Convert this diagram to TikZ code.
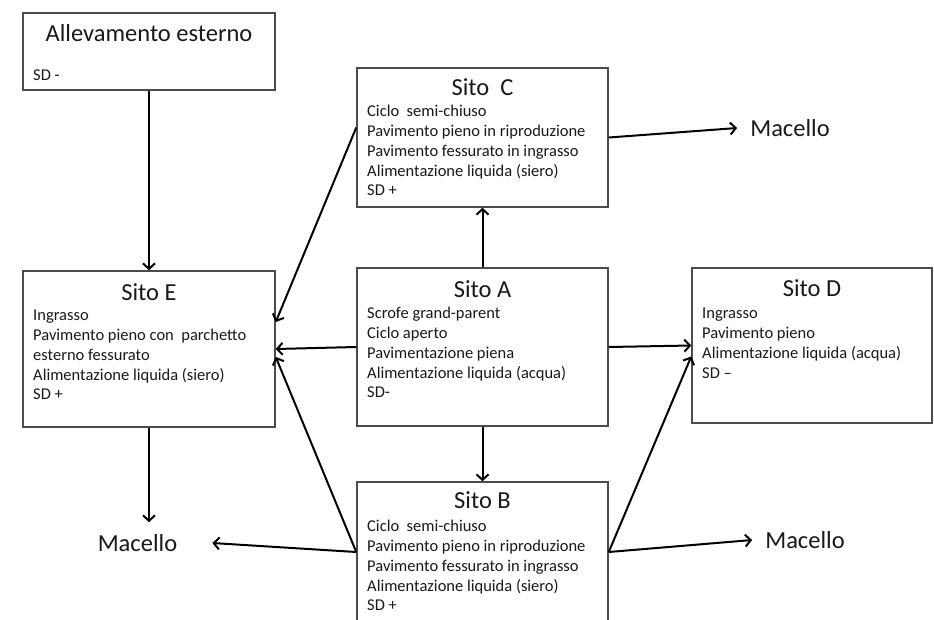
\documentclass[tikz,border=0pt]{standalone}
\usepackage{fontspec}
\setmainfont{Carlito}
\usetikzlibrary{arrows.meta}

\begin{document}
\begin{tikzpicture}[x=1pt,y=-1pt]
  \tikzstyle{box} = [draw=black!70, line width=1.5pt, inner sep=0pt]
  \tikzstyle{titolo} = [font=\fontsize{24.5}{28}\selectfont, text=black!90]
  \tikzstyle{testo} = [font=\fontsize{16.5}{19.8}\selectfont, text=black!90, align=left, anchor=north west, inner sep=0pt]
  \tikzstyle{macello} = [font=\fontsize{24.5}{28}\selectfont, text=black!90, inner xsep=13pt, inner ysep=4pt]
  \tikzstyle{freccia} = [line width=2pt, -{Straight Barb[length=5.5pt,width=12pt]}]
  \useasboundingbox[fill=white] (0,0) rectangle (934,619);
  \clip (0,0) rectangle (934,619);

  % boxes
  \node[box, minimum width=252pt, minimum height=77pt] (all) at (149,51.5) {};
  \node[box, minimum width=251pt, minimum height=139pt] (C) at (482.5,137.5) {};
  \node[box, minimum width=252pt, minimum height=156pt] (E) at (149,349) {};
  \node[box, minimum width=251pt, minimum height=158pt] (A) at (482.5,347) {};
  \node[box, minimum width=240pt, minimum height=155pt] (D) at (812,345.5) {};
  \node[box, minimum width=251pt, minimum height=148pt] (B) at (482.5,556) {};

  % titles and texts
  \node[titolo] (allT) at (149,33) {Allevamento esterno};
  \node[testo] (allX) at (33,70) {SD -};
  \node[titolo] (CT) at (482.5,87) {Sito~~C};
  \node[testo] (CX) at (367,105) {Ciclo~~semi-chiuso\\Pavimento pieno in riproduzione\\Pavimento fessurato in ingrasso\\Alimentazione liquida (siero)\\SD +};
  \node[titolo] (ET) at (149,292) {Sito E};
  \node[testo] (EX) at (33,310) {Ingrasso\\Pavimento pieno con~~parchetto\\esterno fessurato\\Alimentazione liquida (siero)\\SD +};
  \node[titolo] (AT) at (482.5,289) {Sito A};
  \node[testo] (AX) at (367,307) {Scrofe grand-parent\\Ciclo aperto\\Pavimentazione piena\\Alimentazione liquida (acqua)\\SD-};
  \node[titolo] (DT) at (812,288) {Sito D};
  \node[testo] (DX) at (702,308) {Ingrasso\\Pavimento pieno\\Alimentazione liquida (acqua)\\SD --};
  \node[titolo] (BT) at (482.5,500) {Sito B};
  \node[testo] (BX) at (367,520) {Ciclo~~semi-chiuso\\Pavimento pieno in riproduzione\\Pavimento fessurato in ingrasso\\Alimentazione liquida (siero)\\SD +};

  \node[macello] (mC) at (790,128) {Macello};
  \node[macello] (mB) at (805,540) {Macello};
  \node[macello, inner xsep=35pt, inner ysep=12pt] (mE) at (137.5,543) {Macello};

  % arrows
  \draw[freccia] (all.south) -- (E.north);
  \draw[freccia] (A.north) -- (C.south);
  \draw[freccia] (A.south) -- (B.north);
  \draw[freccia] (A.west) -- (E.east);
  \draw[freccia] (A.east) -- (D.west);
  \draw[freccia] ([yshift=10pt]C.west) -- ([yshift=27pt]E.east);
  \draw[freccia] ([yshift=4pt]B.west) -- ([yshift=-8pt]E.east);
  \draw[freccia] ([yshift=4pt]B.east) -- ([yshift=-11pt]D.west);
  \draw[freccia] (C.east) -- (mC.west);
  \draw[freccia] (E.south) -- (E.south |- mE.north);
  \draw[freccia] ([yshift=4pt]B.west) -- (mE.east);
  \draw[freccia] ([yshift=4pt]B.east) -- (mB.west);
\end{tikzpicture}
\end{document}
